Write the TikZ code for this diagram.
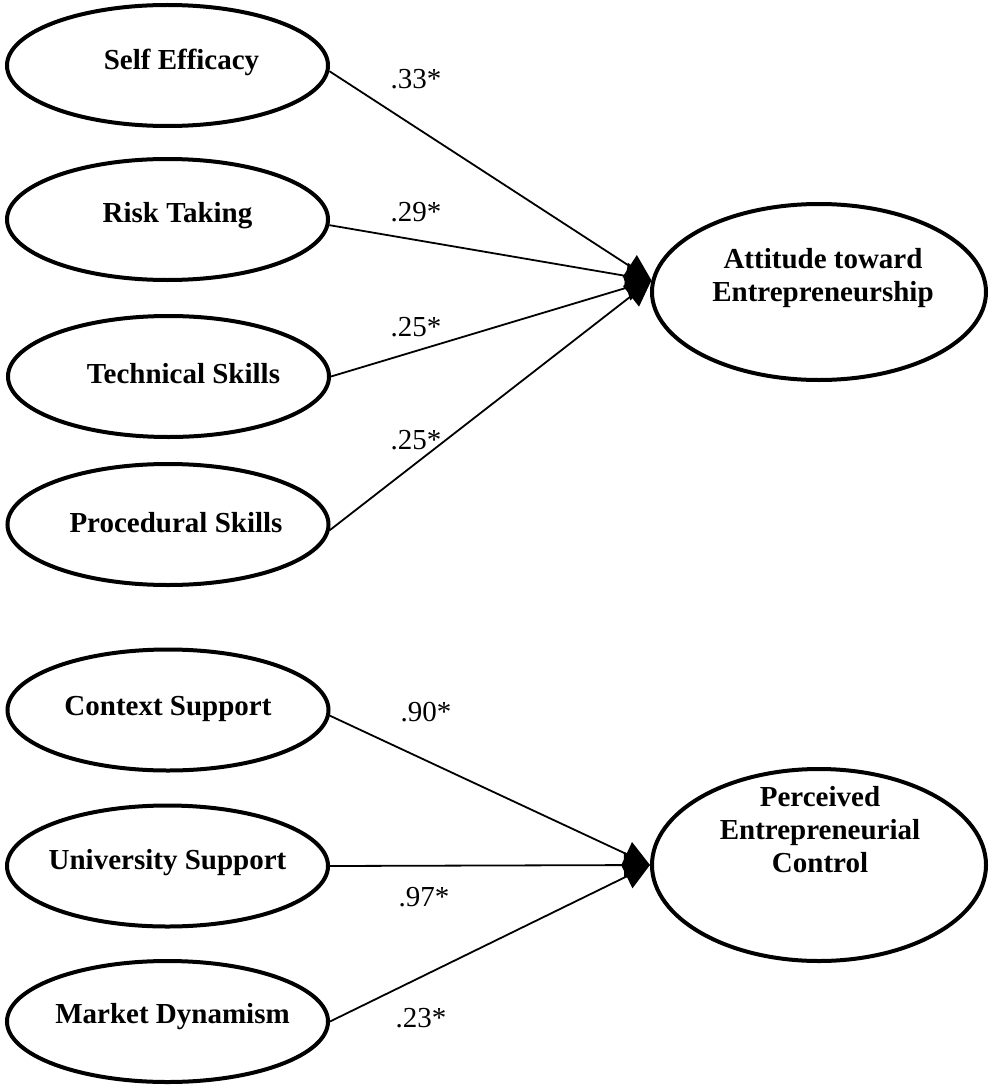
\documentclass[tikz,border=0pt]{standalone}
\usepackage{fontspec}
\setmainfont{Liberation Serif}
\usetikzlibrary{arrows.meta,shapes.geometric}
\begin{document}
\begin{tikzpicture}[x=1pt,y=-1pt,
  factor/.style={draw,ellipse,line width=4pt,minimum width=321pt,minimum height=121pt,inner sep=0pt},
  outcome/.style={draw,ellipse,line width=4pt,minimum width=334pt,inner sep=0pt},
  name text/.style={align=center,inner sep=0pt,font=\fontsize{29}{33}\selectfont\bfseries},
  effect/.style={line width=1.8pt,-{Triangle[length=26pt,width=26pt]}},
  coef/.style={inner sep=0pt,font=\fontsize{29}{33}\selectfont}]
\useasboundingbox (0,0) rectangle (992,1089);

% antecedents of the attitude
\node[factor] (se)   at (167.5,65.5)  {};
\node[factor] (risk) at (167.5,219.5) {};
\node[factor] (tech) at (168.5,376.5) {};
\node[factor] (proc) at (168,524.5)   {};
\node[name text] (setext)   at ([shift={(14,-3)}]se.center)   {Self Efficacy};
\node[name text] (risktext) at ([shift={(10,-4)}]risk.center) {Risk Taking};
\node[name text] (techtext) at ([shift={(15,-3)}]tech.center) {Technical Skills};
\node[name text] (proctext) at ([shift={(8,-2)}]proc.center)  {Procedural Skills};

% antecedents of perceived control
\node[factor] (ctx)  at (168,710)     {};
\node[factor] (uni)  at (167.5,866)   {};
\node[factor] (mkt)  at (167.5,1021.5){};
\node[name text] (ctxtext) at ([shift={(0,-1)}]ctx.center) {Context Support};
\node[name text] (unitext) at ([shift={(0,-3)}]uni.center) {University Support};
\node[name text] (mkttext) at ([shift={(5,-5)}]mkt.center) {Market Dynamism};

% outcomes
\node[outcome,minimum height=176pt] (att) at (819,292) {};
\node[name text] (atttext) at (823,278) {Attitude toward\\Entrepreneurship};
\node[outcome,minimum height=192pt] (pec) at (819,865) {};
\node[name text] (pectext) at (820,830) {Perceived\\Entrepreneurial\\Control};

\coordinate (atip) at (att.176);
\coordinate (ptip) at (pec.west);

% paths
\draw[effect] (se.-2)     -- (atip);
\draw[effect] (risk.-2)   -- (atip);
\draw[effect] (tech.east) -- (atip);
\draw[effect] (proc.-2)   -- (atip);
\draw[effect] (ctx.-2)    -- (ptip);
\draw[effect] (uni.east)  -- (ptip);
\draw[effect] (mkt.east)  -- (ptip);

% standardized coefficients
\node[coef] (c1) at (416,79)   {.33*};
\node[coef] (c2) at (416,212)  {.29*};
\node[coef] (c3) at (416,327)  {.25*};
\node[coef] (c4) at (416,440)  {.25*};
\node[coef] (c5) at (426,712)  {.90*};
\node[coef] (c6) at (424,897)  {.97*};
\node[coef] (c7) at (421,1018) {.23*};
\end{tikzpicture}
\end{document}
